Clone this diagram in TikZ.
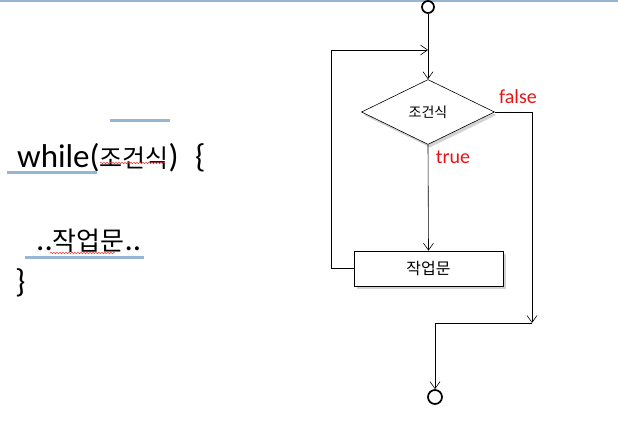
\documentclass[tikz,border=0pt]{standalone}
\usepackage{fontspec}
\setmainfont{Carlito}
\newfontfamily\kor{Noto Sans CJK KR}
\usepackage{xcolor}
\usetikzlibrary{arrows.meta,positioning,shapes.geometric,shadows,decorations.pathmorphing}
\definecolor{rulerblue}{RGB}{150,182,212}
\definecolor{labelred}{RGB}{230,20,20}

\begin{document}
\begin{tikzpicture}[
    x=1pt, y=-1pt,
    terminal/.style={circle, draw, line width=1.7pt, minimum size=12pt, inner sep=0pt},
    decision/.style={diamond, draw, fill=white, semithick, aspect=2.05, minimum width=133pt, minimum height=65pt, inner sep=0pt, font=\kor\fontsize{14}{16}\selectfont, drop shadow={opacity=0.35, shadow xshift=2pt, shadow yshift=-3pt}},
    process/.style={rectangle, draw, fill=white, semithick, minimum width=149pt, minimum height=35pt, inner sep=1pt, font=\kor\fontsize{16}{18}\selectfont, drop shadow={opacity=0.35, shadow xshift=3pt, shadow yshift=-3pt}},
    arrow/.style={-{Straight Barb[length=7pt, width=10pt]}, semithick},
    flowlabel/.style={text=labelred, font=\fontsize{20}{22}\selectfont, inner sep=0pt},
    code/.style={anchor=base west, inner sep=0pt, font=\fontsize{33}{36}\selectfont},
    hilite/.style={draw=rulerblue, line width=3pt},
    spellmark/.style={draw=red!80, line width=0.5pt, decorate, decoration={snake, amplitude=0.8pt, segment length=3pt}}
]
\useasboundingbox (0,0) rectangle (618,426);
\draw[draw=rulerblue, line width=2pt] (0,1) -- (618,1);

% code on the left
\node[code] (whilekw) at (17,167) {while({\kor\fontsize{25}{28}\selectfont 조건식})};
\node[code] (openbr) at (195,167) {\{};
\node[code] (body) at (36,250) {..{\kor\fontsize{26}{28}\selectfont 작업문}..};
\node[code] (closebr) at (15,292) {\}};
\draw[hilite] (7,172) -- (97,172);
\draw[hilite] (110,120) -- (170,120);
\draw[hilite] (25,257) -- (144,257);
\draw[spellmark] (100,163) -- (165,163);
\draw[spellmark] (50,253) -- (115,253);

% flow chart
\node[terminal] (start) at (428,7) {};
\node[decision] (cond) at (428,112) {조건식};
\node[process] (work) at (428.5,268.5) {작업문};
\node[terminal, minimum size=14pt] (stop) at (435,397) {};
\coordinate (loopL) at (331,50);
\coordinate (loopjoin) at (428,50);
\coordinate (merge) at (532,323);

\draw[arrow] (start) -- (cond.north);
\draw[arrow] (cond.south) -- (work.north);
\draw[arrow] (work.west) -| (loopL) -- (loopjoin);
\draw[arrow] (cond.east) -| (merge);
\draw[arrow] (merge) -| (stop.north);

\node[flowlabel] (falselbl) at (518,97) {false};
\node[flowlabel] (truelbl) at (453,157) {true};
\end{tikzpicture}
\end{document}
